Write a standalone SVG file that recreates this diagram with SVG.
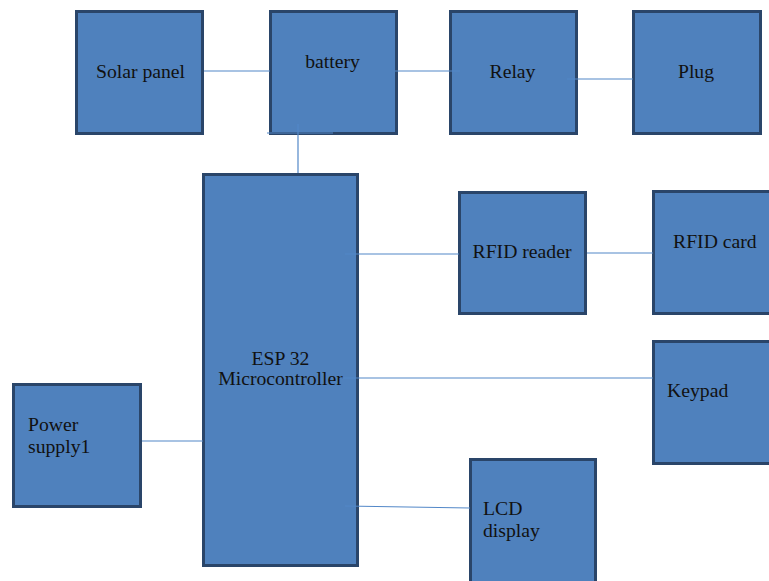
<svg xmlns="http://www.w3.org/2000/svg" width="769" height="581" viewBox="0 0 769 581">
<style>
.box{fill:#4F81BD;stroke:#2A4569;stroke-width:3}
.t{font-family:'Liberation Serif','Times New Roman',Tinos,'DejaVu Serif',serif;font-size:19.7px;fill:#111}
.ln{stroke:#5388C8;stroke-width:1.2;fill:none}
</style>
<rect width="769" height="581" fill="#fff"/>
<g id="solar"><rect class="box" x="76.5" y="11.5" width="126" height="122"/><text class="t" x="140.5" y="78" text-anchor="middle">Solar panel</text></g>
<g id="battery"><rect class="box" x="270.5" y="11.5" width="126" height="122"/><text class="t" x="332.5" y="68" text-anchor="middle">battery</text></g>
<g id="relay"><rect class="box" x="450.5" y="11.5" width="126" height="122"/><text class="t" x="512.5" y="78" text-anchor="middle">Relay</text></g>
<g id="plug"><rect class="box" x="633.5" y="11.5" width="127" height="122"/><text class="t" x="696" y="78" text-anchor="middle">Plug</text></g>
<g id="esp32"><rect class="box" x="203.5" y="174.5" width="154" height="391"/><text class="t" x="280.5" y="365" text-anchor="middle">ESP 32</text><text class="t" x="280.5" y="385" text-anchor="middle">Microcontroller</text></g>
<g id="rfid-reader"><rect class="box" x="459.5" y="192.5" width="126" height="121"/><text class="t" x="522" y="258" text-anchor="middle">RFID reader</text></g>
<g id="rfid-card"><rect class="box" x="653.5" y="191.5" width="130" height="122"/><text class="t" x="673" y="248">RFID card</text></g>
<g id="keypad"><rect class="box" x="653.5" y="341.5" width="130" height="122"/><text class="t" x="667" y="397">Keypad</text></g>
<g id="lcd"><rect class="box" x="470.5" y="459.5" width="125" height="130"/><text class="t" x="483" y="515">LCD</text><text class="t" x="483" y="537">display</text></g>
<g id="power"><rect class="box" x="13.5" y="384.5" width="127" height="122"/><text class="t" x="28" y="431">Power</text><text class="t" x="28" y="453">supply1</text></g>
<g id="connectors">
<line class="ln" x1="204" y1="71" x2="270" y2="71"/>
<line class="ln" x1="395" y1="71" x2="460" y2="71"/>
<line class="ln" x1="567" y1="79" x2="633" y2="79"/>
<line class="ln" x1="267" y1="133" x2="333" y2="133"/>
<line class="ln" x1="298" y1="124" x2="298" y2="173"/>
<line class="ln" x1="345" y1="254" x2="459" y2="254"/>
<line class="ln" x1="587" y1="253" x2="653" y2="253"/>
<line class="ln" x1="340" y1="378" x2="653" y2="378"/>
<line class="ln" x1="142" y1="441" x2="203" y2="441"/>
<line class="ln" x1="345" y1="506" x2="470" y2="508"/>
</g>
</svg>
